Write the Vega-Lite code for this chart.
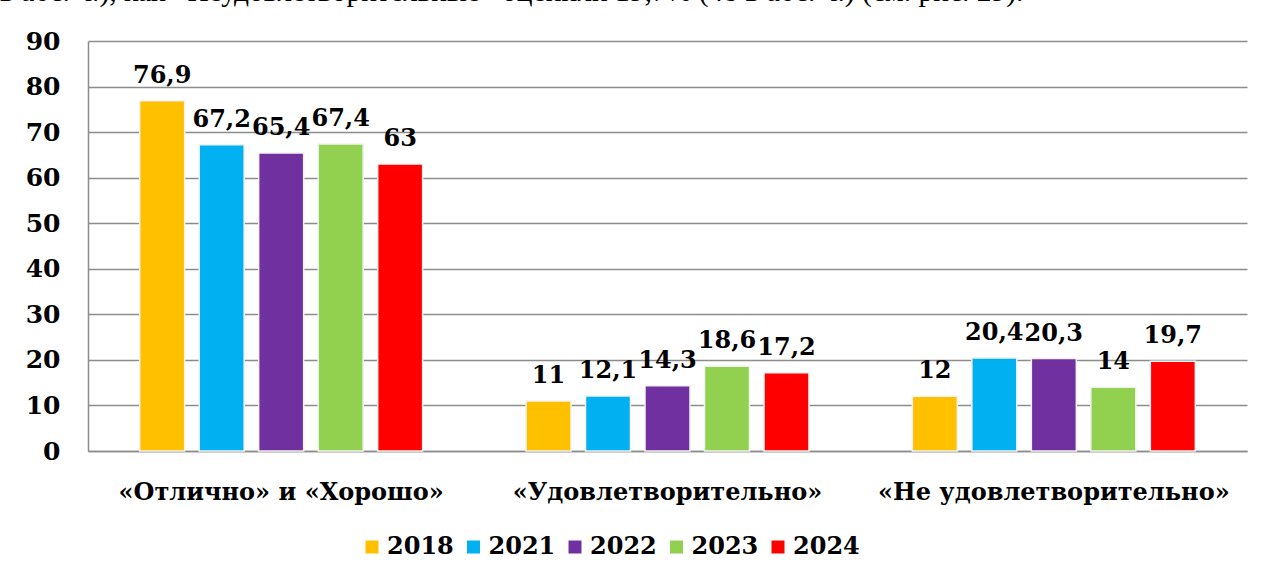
{
  "$schema": "https://vega.github.io/schema/vega-lite/v6.json",
  "width": 1159,
  "height": 410,
  "autosize": {"type": "none"},
  "padding": {"left": 88, "top": 41, "right": 21, "bottom": 128},
  "background": "white",
  "title": {
    "text": "в абс. ч.), как «Неудовлетворительные» оценили 19,7% (48 в абс. ч.) (см. рис. 29).",
    "anchor": "start",
    "frame": "group",
    "orient": "top",
    "dx": -88,
    "dy": 1,
    "offset": 0,
    "baseline": "alphabetic",
    "font": "Liberation Serif",
    "fontSize": 29.5,
    "fontWeight": "normal",
    "color": "black"
  },
  "data": {
    "values": [
      {"category": "«Отлично» и «Хорошо»", "year": "2018", "value": 76.9, "label": "76,9"},
      {"category": "«Отлично» и «Хорошо»", "year": "2021", "value": 67.2, "label": "67,2"},
      {"category": "«Отлично» и «Хорошо»", "year": "2022", "value": 65.4, "label": "65,4"},
      {"category": "«Отлично» и «Хорошо»", "year": "2023", "value": 67.4, "label": "67,4"},
      {"category": "«Отлично» и «Хорошо»", "year": "2024", "value": 63, "label": "63"},
      {"category": "«Удовлетворительно»", "year": "2018", "value": 11, "label": "11"},
      {"category": "«Удовлетворительно»", "year": "2021", "value": 12.1, "label": "12,1"},
      {"category": "«Удовлетворительно»", "year": "2022", "value": 14.3, "label": "14,3"},
      {"category": "«Удовлетворительно»", "year": "2023", "value": 18.6, "label": "18,6"},
      {"category": "«Удовлетворительно»", "year": "2024", "value": 17.2, "label": "17,2"},
      {"category": "«Не удовлетворительно»", "year": "2018", "value": 12, "label": "12"},
      {"category": "«Не удовлетворительно»", "year": "2021", "value": 20.4, "label": "20,4"},
      {"category": "«Не удовлетворительно»", "year": "2022", "value": 20.3, "label": "20,3"},
      {"category": "«Не удовлетворительно»", "year": "2023", "value": 14, "label": "14"},
      {"category": "«Не удовлетворительно»", "year": "2024", "value": 19.7, "label": "19,7"}
    ]
  },
  "encoding": {
    "x": {
      "field": "category",
      "type": "nominal",
      "sort": ["«Отлично» и «Хорошо»", "«Удовлетворительно»", "«Не удовлетворительно»"],
      "scale": {"paddingInner": 0.23, "paddingOuter": 0.115},
      "axis": {
        "title": null,
        "labelAngle": 0,
        "labelLimit": 0,
        "ticks": false,
        "labelPadding": 29,
        "labelFont": "DejaVu Serif",
        "labelFontSize": 24,
        "labelFontWeight": "bold",
        "labelColor": "black",
        "domainColor": "#8c8c8c",
        "domainWidth": 1.5,
        "grid": false
      }
    },
    "xOffset": {
      "field": "year",
      "type": "nominal",
      "scale": {"paddingInner": 0.244, "paddingOuter": 0.122}
    },
    "y": {
      "field": "value",
      "type": "quantitative",
      "scale": {"domain": [0, 90], "nice": false},
      "axis": {
        "title": null,
        "values": [0, 10, 20, 30, 40, 50, 60, 70, 80, 90],
        "ticks": false,
        "labelPadding": 28,
        "labelFont": "DejaVu Serif",
        "labelFontSize": 25,
        "labelFontWeight": "bold",
        "labelColor": "black",
        "domainColor": "#8c8c8c",
        "domainWidth": 1.5,
        "grid": true,
        "gridColor": "#8c8c8c",
        "gridWidth": 1.5
      }
    }
  },
  "layer": [
    {
      "mark": {"type": "bar", "stroke": "#f2f2f2", "strokeWidth": 1.5},
      "encoding": {
        "color": {
          "field": "year",
          "type": "nominal",
          "scale": {
            "domain": ["2018", "2021", "2022", "2023", "2024"],
            "range": ["#FFC000", "#00B0F0", "#7030A0", "#92D050", "#FF0000"]
          },
          "legend": {
            "title": null,
            "orient": "none",
            "direction": "horizontal",
            "legendX": 272,
            "legendY": 494,
            "symbolType": "square",
            "symbolSize": 169,
            "symbolStrokeWidth": 0,
            "labelFont": "DejaVu Serif",
            "labelFontSize": 24,
            "labelFontWeight": "bold",
            "labelColor": "black",
            "labelOffset": 3,
            "columnPadding": 7.5,
            "padding": 0
          }
        }
      }
    },
    {
      "mark": {
        "type": "text",
        "dy": -18,
        "baseline": "alphabetic",
        "font": "DejaVu Serif",
        "fontSize": 24,
        "fontWeight": "bold",
        "color": "black"
      },
      "encoding": {
        "text": {"field": "label", "type": "nominal"}
      }
    }
  ],
  "config": {
    "view": {"stroke": null}
  }
}
